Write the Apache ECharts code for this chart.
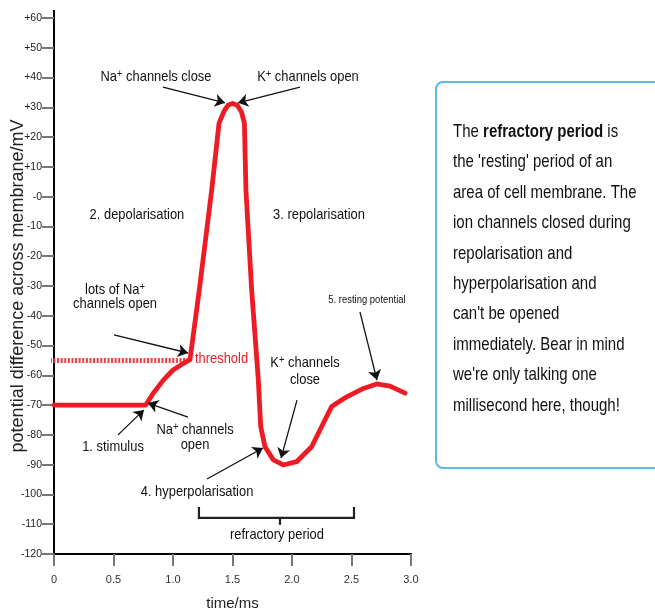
<!DOCTYPE html>
<html>
<head>
<meta charset="utf-8">
<script src="https://cdn.jsdelivr.net/npm/echarts@6/dist/echarts.min.js"></script>
<style>
html,body{margin:0;padding:0;background:#fff;}
#main{width:655px;height:615px;}
</style>
</head>
<body>
<div id="main"></div>
<script>
// ---- data (time in ms, potential in mV) ----
var curveTime = [0, 0.77, 0.834, 0.919, 1.0, 1.087, 1.143, 1.221, 1.325, 1.387, 1.43, 1.465, 1.5, 1.54, 1.575, 1.6, 1.613, 1.661, 1.717, 1.737, 1.773, 1.843, 1.927, 2.039, 2.165, 2.263, 2.333, 2.46, 2.6, 2.712, 2.824, 2.95];
var curveMv   = [-70, -70, -66, -61.6, -58.2, -56, -54.7, -31.3, 2.2, 24.7, 28.8, 30.8, 31.3, 30.7, 28.5, 24.7, 2.2, -31.3, -61.6, -77.2, -84, -88.4, -90.1, -89, -84, -76.1, -70.5, -67.2, -64.4, -62.9, -63.6, -66];
var thresholdMv = -55;
var thresholdTime = [-0.065, 1.14];
var yTicks = [-120, 60, 10];
var xTicks = [0, 3, 0.5];

var arrows = [
  [[0.916, 36.8], [1.437, 31.5]],
  [[2.067, 36.8], [1.546, 31.5]],
  [[0.504, -46.4], [1.126, -52.5]],
  [[0.538, -80], [0.756, -71.6]],
  [[1.126, -74], [0.79, -69.3]],
  [[2.042, -68.3], [1.908, -87.8]],
  [[2.571, -38.7], [2.714, -61.6]],
  [[1.286, -94.8], [1.756, -84.4]]
];
var bracket = [[1.218, -104.2], [1.218, -107.9], [2.521, -107.9], [2.521, -104.2]];
var bracketTick = [[1.899, -107.9], [1.899, -110.2]];

// [t, mV, text, fontSize, color, align]
var labels = [
  [0.857, 40.2, 'Na{s|+} channels close', 15, '#111', 'center'],
  [2.134, 40.2, 'K{s|+} channels open', 15, '#111', 'center'],
  [0.697, -6.2, '2. depolarisation', 15, '#111', 'center'],
  [2.227, -6.2, '3. repolarisation', 15, '#111', 'center'],
  [0.513, -31.3, 'lots of Na{s|+}', 15, '#111', 'center'],
  [0.513, -36.0, 'channels open', 15, '#111', 'center'],
  [1.185, -54.5, 'threshold', 15, '#ed1c24', 'left'],
  [0.496, -84.1, '1. stimulus', 15, '#111', 'center'],
  [1.185, -78.3, 'Na{s|+} channels', 15, '#111', 'center'],
  [1.185, -83.4, 'open', 15, '#111', 'center'],
  [2.109, -55.8, 'K{s|+} channels', 15, '#111', 'center'],
  [2.109, -61.6, 'close', 15, '#111', 'center'],
  [2.63, -34.7, '5. resting potential', 11, '#111', 'center'],
  [1.202, -99.2, '4. hyperpolarisation', 15, '#111', 'center'],
  [1.874, -113.6, 'refractory period', 15, '#111', 'center']
];

var boxLines = [
  'The {b|refractory period} is',
  "the 'resting' period of an",
  'area of cell membrane. The',
  'ion channels closed during',
  'repolarisation and',
  'hyperpolarisation and',
  "can't be opened",
  'immediately. Bear in mind',
  "we're only talking one",
  'millisecond here, though!'
];

var SANS = "'Liberation Sans',Arial,sans-serif";

var chart = echarts.init(document.getElementById('main'), null, {renderer: 'canvas'});

var curve = curveTime.map(function (t, i) { return [t, curveMv[i]]; });
var thr = thresholdTime.map(function (t) { return [t, thresholdMv]; });

var option = {
  backgroundColor: '#fff',
  animation: false,
  grid: {left: 54, right: 244, top: 18, bottom: 61, containLabel: false, outerBoundsMode: 'none'},
  xAxis: {
    type: 'value', min: xTicks[0], max: xTicks[1], interval: xTicks[2],
    name: 'time/ms', nameLocation: 'middle', nameGap: 42, nameMoveOverlap: false,
    nameTextStyle: {fontSize: 15, color: '#222', fontFamily: SANS},
    axisLine: {show: true, onZero: false, lineStyle: {color: '#000', width: 2}},
    axisTick: {show: true, length: 12, lineStyle: {color: '#777', width: 2}},
    axisLabel: {margin: 20, fontSize: 11, color: '#333', fontFamily: SANS,
      formatter: function (v) { return v === 0 ? '0' : v.toFixed(1); }},
    splitLine: {show: false}
  },
  yAxis: {
    type: 'value', min: yTicks[0], max: yTicks[1], interval: yTicks[2],
    name: 'potential difference across membrane/mV', nameLocation: 'middle', nameGap: 27, nameMoveOverlap: false,
    nameTextStyle: {fontSize: 18, color: '#222', fontFamily: SANS},
    axisLine: {show: true, onZero: false, lineStyle: {color: '#000', width: 2}},
    axisTick: {show: true, length: 12, lineStyle: {color: '#777', width: 2}},
    axisLabel: {margin: 12, fontSize: 10.5, color: '#222', fontFamily: SANS,
      formatter: function (v) { return v > 0 ? '+' + v : (v === 0 ? '-0' : String(v)); }},
    splitLine: {show: false}
  },
  series: [
    {
      type: 'line', data: thr, clip: false, symbol: 'none', z: 1,
      lineStyle: {color: '#f03c44', width: 5, type: [2, 1.6]}
    },
    {
      type: 'line', data: curve, symbol: 'none', z: 3, clip: false,
      lineStyle: {color: '#ed1c24', width: 4.8, join: 'round', cap: 'round'}
    },
    {
      type: 'lines', coordinateSystem: 'cartesian2d', z: 5,
      symbol: ['none', 'arrow'], symbolSize: 10,
      lineStyle: {color: '#111', width: 1.3, opacity: 1},
      data: arrows.map(function (a) { return {coords: a}; })
    },
    {
      type: 'lines', coordinateSystem: 'cartesian2d', polyline: true, z: 5,
      symbol: 'none',
      lineStyle: {color: '#222', width: 2.2, opacity: 1},
      data: [{coords: bracket}, {coords: bracketTick}]
    }
  ]
};
chart.setOption(option);

function buildGraphics() {
  var g = [];
  labels.forEach(function (l) {
    var p = chart.convertToPixel({xAxisIndex: 0, yAxisIndex: 0}, [l[0], l[1]]);
    g.push({
      type: 'text', x: p[0], y: p[1], z: 10, scaleX: 0.86,
      style: {
        text: l[2], fill: l[4], align: l[5], verticalAlign: 'middle',
        fontSize: l[3], fontFamily: SANS,
        rich: {s: {fontSize: Math.round(l[3] * 0.7), fill: l[4], fontFamily: SANS, padding: [0, 0, 5, 0]}}
      }
    });
  });
  // axis line extension above +60
  var top = chart.convertToPixel({xAxisIndex: 0, yAxisIndex: 0}, [0, 60]);
  g.push({type: 'line', shape: {x1: top[0], y1: top[1], x2: top[0], y2: top[1] - 8}, style: {stroke: '#000', lineWidth: 2}});
  // info box
  g.push({type: 'rect', shape: {x: 436, y: 82, width: 240, height: 386, r: 7},
    style: {fill: '#fff', stroke: '#5cb9e9', lineWidth: 2}, z: 1});
  g.push({type: 'text', x: 453, y: 116.5, z: 2, scaleX: 0.79,
    style: {text: boxLines.join('\n'), fill: '#111', fontSize: 19, fontFamily: SANS,
      lineHeight: 30.4, verticalAlign: 'top', align: 'left',
      rich: {b: {fontWeight: 'bold', fontSize: 19, fontFamily: SANS, lineHeight: 30.4, fill: '#111'}}}});
  chart.setOption({graphic: g});
}
buildGraphics();
</script>
</body>
</html>
